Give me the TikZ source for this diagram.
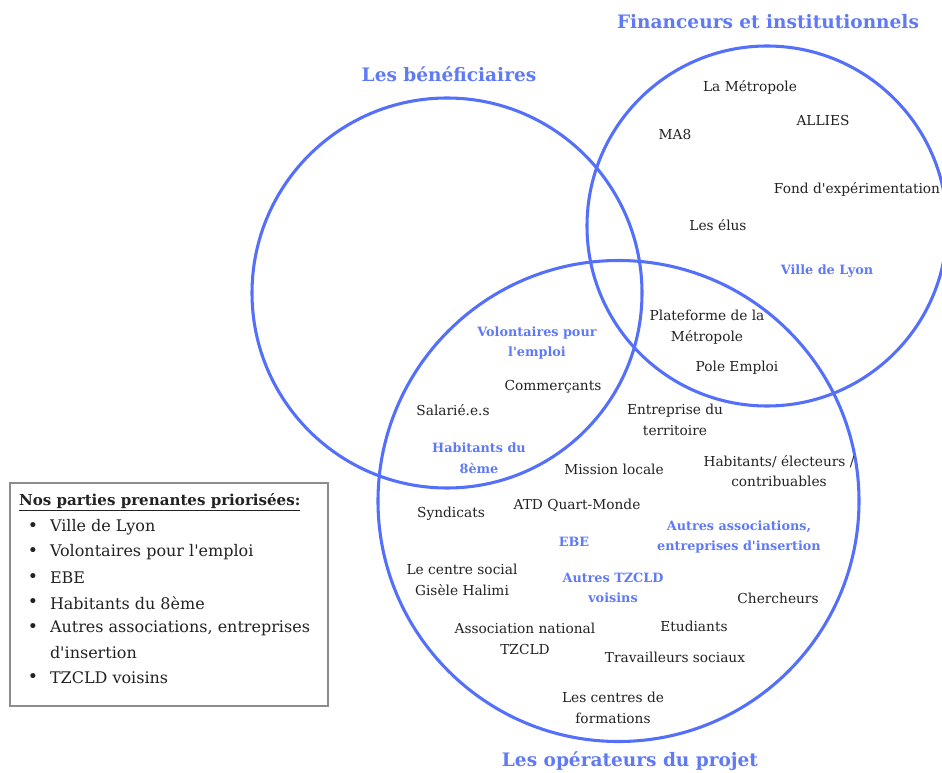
\documentclass[tikz,border=0pt]{standalone}
\usepackage{fontspec}
\setmainfont{DejaVu Serif}[Ligatures=TeXOff]
\newcommand\ap{'}
\begin{document}
\begin{tikzpicture}[x=0.75pt,y=-0.75pt,
  every node/.style={inner sep=0pt, outer sep=0pt},
  ring/.style={draw=ringblue, line width=2.3pt},
  lbl/.style={font=\fontsize{10.3}{15.5}\selectfont, text=txt, align=center},
  key/.style={font=\fontsize{9.6}{15.5}\selectfont\bfseries, text=keyblue, align=center},
  title/.style={font=\fontsize{13.9}{17}\selectfont\bfseries, text=keyblue},
  legtxt/.style={font=\fontsize{12}{14}\selectfont, text=txt, anchor=west},
  bul/.style={font=\fontsize{13}{14}\selectfont, text=txt}
]
\definecolor{ringblue}{RGB}{84,112,250}
\definecolor{keyblue}{RGB}{96,122,246}
\definecolor{txt}{RGB}{34,34,34}
\useasboundingbox (0,0) rectangle (942,773);
\fill[white] (0,0) rectangle (942,773);

% circles
\draw[ring] (447,293) circle[radius=195];
\draw[ring] (767,226) circle[radius=180];
\draw[ring] (618.5,501) circle[radius=240.5];

% titles
\node[title] (tfin) at (768,22) {Financeurs et institutionnels};
\node[title] (tben) at (449,74) {Les bénéficiaires};
\node[title] (tope) at (630,761) {Les opérateurs du projet};

% labels
\node[lbl] (metro) at (750,87) {La Métropole};
\node[lbl] (allies) at (823,121) {ALLIES};
\node[lbl] (ma8) at (675,135) {MA8};
\node[lbl] (fond) at (857,189) {Fond d\ap expérimentation};
\node[lbl] (elus) at (718,225) {Les élus};
\node[key] (lyon) at (827,271) {Ville de Lyon};
\node[lbl] (plat) at (707,327) {Plateforme de la\\Métropole};
\node[lbl] (pole) at (737,368) {Pole Emploi};
\node[key] (volo) at (537,343) {Volontaires pour\\l\ap emploi};
\node[lbl] (comm) at (553,387) {Commerçants};
\node[lbl] (sala) at (453,410) {Salarié.e.s};
\node[lbl] (entr) at (675,420) {Entreprise du\\territoire};
\node[key] (habi) at (479,458) {Habitants du\\8ème};
\node[lbl] (miss) at (614,469) {Mission locale};
\node[lbl] (elec) at (779,471) {Habitants/ électeurs /\\contribuables};
\node[lbl] (synd) at (451,514) {Syndicats};
\node[lbl] (atd) at (577,505) {ATD Quart-Monde};
\node[key] (ebe) at (574,542) {EBE};
\node[key] (autr) at (739,537) {Autres associations,\\entreprises d\ap insertion};
\node[lbl] (cent) at (462,580) {Le centre social\\Gisèle Halimi};
\node[key] (tzv) at (613,588) {Autres TZCLD\\voisins};
\node[lbl] (cher) at (778,598) {Chercheurs};
\node[lbl] (etud) at (694,626) {Etudiants};
\node[lbl] (asso) at (525,639) {Association national\\TZCLD};
\node[lbl] (trav) at (675,657) {Travailleurs sociaux};
\node[lbl] (form) at (613,708) {Les centres de\\formations};

% legend
\draw[draw=black!45, line width=0.8pt] (10,483) rectangle (328,706);
\node[legtxt, font=\fontsize{11.3}{14}\selectfont\bfseries] (lt) at (19,502) {\underline{Nos parties prenantes priorisées:}};
\foreach \y/\t in {527/Ville de Lyon, 552/Volontaires pour l\ap emploi, 578/EBE, 603/Habitants du 8ème, 628/{Autres associations, entreprises}, 678/TZCLD voisins}{
  \node[bul] at (33,\y) {•};
  \node[legtxt] at (50,\y) {\t};
}
\node[legtxt] (li) at (50,653) {d\ap insertion};
\end{tikzpicture}
\end{document}
